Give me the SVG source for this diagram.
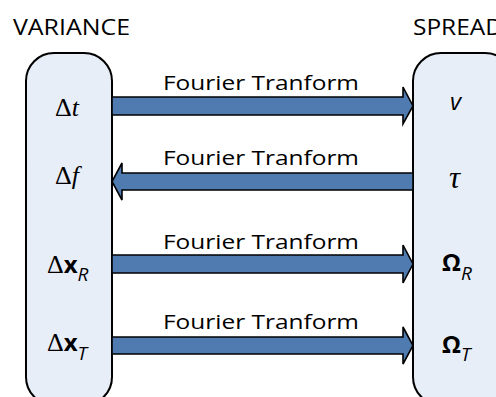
<svg xmlns="http://www.w3.org/2000/svg" width="496" height="397" viewBox="0 0 496 397">
<style>
.box{fill:#E8EEF8;stroke:#000;stroke-width:2}
.arr{fill:#4F7BB0;stroke:#000;stroke-width:1.6;stroke-linejoin:miter}
.lbl{font-family:"Open Sans","Liberation Sans",sans-serif;font-size:20px;fill:#000}
.hdr{font-family:"Open Sans","Liberation Sans",sans-serif;font-size:21px;fill:#000}
.m{font-family:"Liberation Serif","DejaVu Serif",serif;font-size:26px;fill:#000}
.it{font-style:italic}
.bs{font-family:"Open Sans","Liberation Sans",sans-serif;font-weight:bold;font-size:24px}
.sub{font-family:"Open Sans","Liberation Sans",sans-serif;font-style:italic;font-size:19px}
</style>
<rect width="496" height="397" fill="#fff"/>
<text class="hdr" x="13" y="35" textLength="117" lengthAdjust="spacingAndGlyphs">VARIANCE</text>
<text class="hdr" x="413" y="35" textLength="90" lengthAdjust="spacingAndGlyphs">SPREAD</text>
<g id="variance">
<rect class="box" x="26" y="53" width="86" height="352" rx="28"/>
<text class="m" x="55" y="116">Δ<tspan class="it">t</tspan></text>
<text class="m" x="55" y="184">Δ<tspan class="it">f</tspan></text>
<text class="m" x="47" y="273">Δ<tspan class="bs">x</tspan><tspan class="sub" dy="8">R</tspan></text>
<text class="m" x="47" y="351">Δ<tspan class="bs">x</tspan><tspan class="sub" dy="9">T</tspan></text>
</g>
<g id="spread">
<rect class="box" x="413" y="53" width="100" height="352" rx="28"/>
<text class="sub" x="450" y="110" style="font-size:24px">v</text>
<text class="m it" x="449" y="188" style="font-size:31px">τ</text>
<text class="m" x="442" y="271"><tspan class="bs">Ω</tspan><tspan class="sub" dy="9">R</tspan></text>
<text class="m" x="442" y="353"><tspan class="bs">Ω</tspan><tspan class="sub" dy="8">T</tspan></text>
</g>
<g id="connectors">
<path class="arr" d="M112,97 H403 V87 L413,106 L403,124 V115 H112 Z"/>
<path class="arr" d="M413,173 H122 V163 L112,181.5 L122,200 V190 H413 Z"/>
<path class="arr" d="M112,255 H403 V245 L413,264 L403,283 V273 H112 Z"/>
<path class="arr" d="M112,337 H403 V327 L413,345.5 L403,364 V354 H112 Z"/>
<text class="lbl" x="163" y="90" textLength="196" lengthAdjust="spacingAndGlyphs">Fourier Tranform</text>
<text class="lbl" x="163" y="165" textLength="196" lengthAdjust="spacingAndGlyphs">Fourier Tranform</text>
<text class="lbl" x="163" y="249" textLength="196" lengthAdjust="spacingAndGlyphs">Fourier Tranform</text>
<text class="lbl" x="163" y="329" textLength="196" lengthAdjust="spacingAndGlyphs">Fourier Tranform</text>
</g>
</svg>
